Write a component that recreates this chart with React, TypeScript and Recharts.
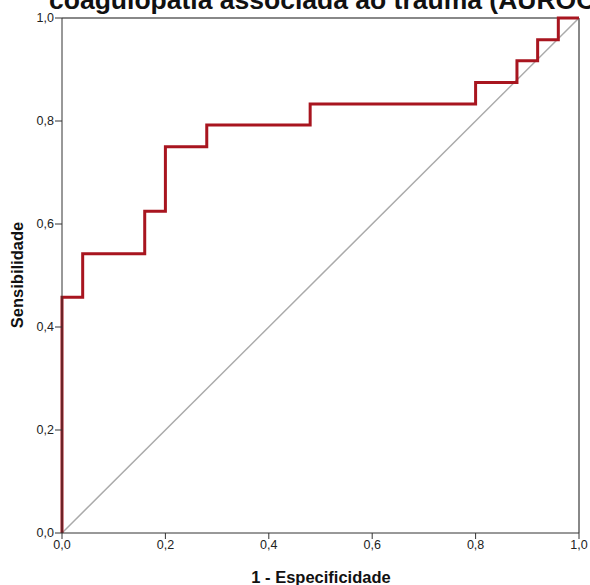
import { Label, Line, LineChart, ReferenceLine, XAxis, YAxis } from 'recharts'

// pontos da curva ROC (1 - especificidade, sensibilidade)
const fpr = [0, 0, 0.04, 0.16, 0.2, 0.28, 0.48, 0.8, 0.88, 0.92, 0.96, 1]
const tpr = [0, 0.458, 0.542, 0.625, 0.75, 0.792, 0.833, 0.875, 0.917, 0.958, 1, 1]
const refX = [0, 1]
const refY = [0, 1]
const ticks = [0, 0.2, 0.4, 0.6, 0.8, 1]

const titulo = 'coagulopatia associada ao trauma (AUROC = 0,778)'

const fmt = (v: number) => v.toFixed(1).replace('.', ',')

const curva = fpr.map((x, i) => ({ x, y: tpr[i] }))
const diagonal = refX.map((x, i) => ({ x, y: refY[i] }))

const fonte = 'Arial, Liberation Sans, sans-serif'
const tickStyle = { fontSize: 12.5, fill: '#222', fontFamily: fonte }
const rotuloStyle = { fontSize: 16.5, fontWeight: 'bold', fill: '#111', fontFamily: fonte }

export default function App() {
  return (
    <div style={{ position: 'absolute', left: 0, top: 0, background: '#fff' }}>
      <LineChart width={590} height={585} margin={{ top: 18, right: 11, bottom: 0, left: 0 }}>
        <text x={49} y={9} fontSize={26.5} fontWeight="bold" fontFamily={fonte} fill="#111">
          {titulo}
        </text>
        <text x={321} y={583} textAnchor="middle" {...rotuloStyle}>
          1 - Especificidade
        </text>
        <text
          x={0}
          y={0}
          transform="translate(23 275) rotate(-90)"
          textAnchor="middle"
          {...rotuloStyle}
        >
          Sensibilidade
        </text>
        <XAxis
          dataKey="x"
          type="number"
          domain={[0, 1]}
          ticks={ticks}
          tickFormatter={fmt}
          height={52}
          tickSize={6}
          tickMargin={1}
          tick={tickStyle}
          stroke="#333"
          allowDuplicatedCategory={false}
        />
        <YAxis
          dataKey="y"
          type="number"
          domain={[0, 1]}
          ticks={ticks}
          tickFormatter={fmt}
          width={62}
          tickSize={7}
          tickMargin={1}
          tick={tickStyle}
          stroke="#333"
        />
        <ReferenceLine y={1} stroke="#888" strokeWidth={2} />
        <ReferenceLine x={1} stroke="#888" strokeWidth={2} />
        <Line
          data={diagonal}
          dataKey="y"
          type="linear"
          stroke="#aaa"
          strokeWidth={1.5}
          dot={false}
          isAnimationActive={false}
        />
        <Line
          data={curva}
          dataKey="y"
          type="stepAfter"
          stroke="#a8151f"
          strokeWidth={3}
          dot={false}
          isAnimationActive={false}
        />
      </LineChart>
    </div>
  )
}
